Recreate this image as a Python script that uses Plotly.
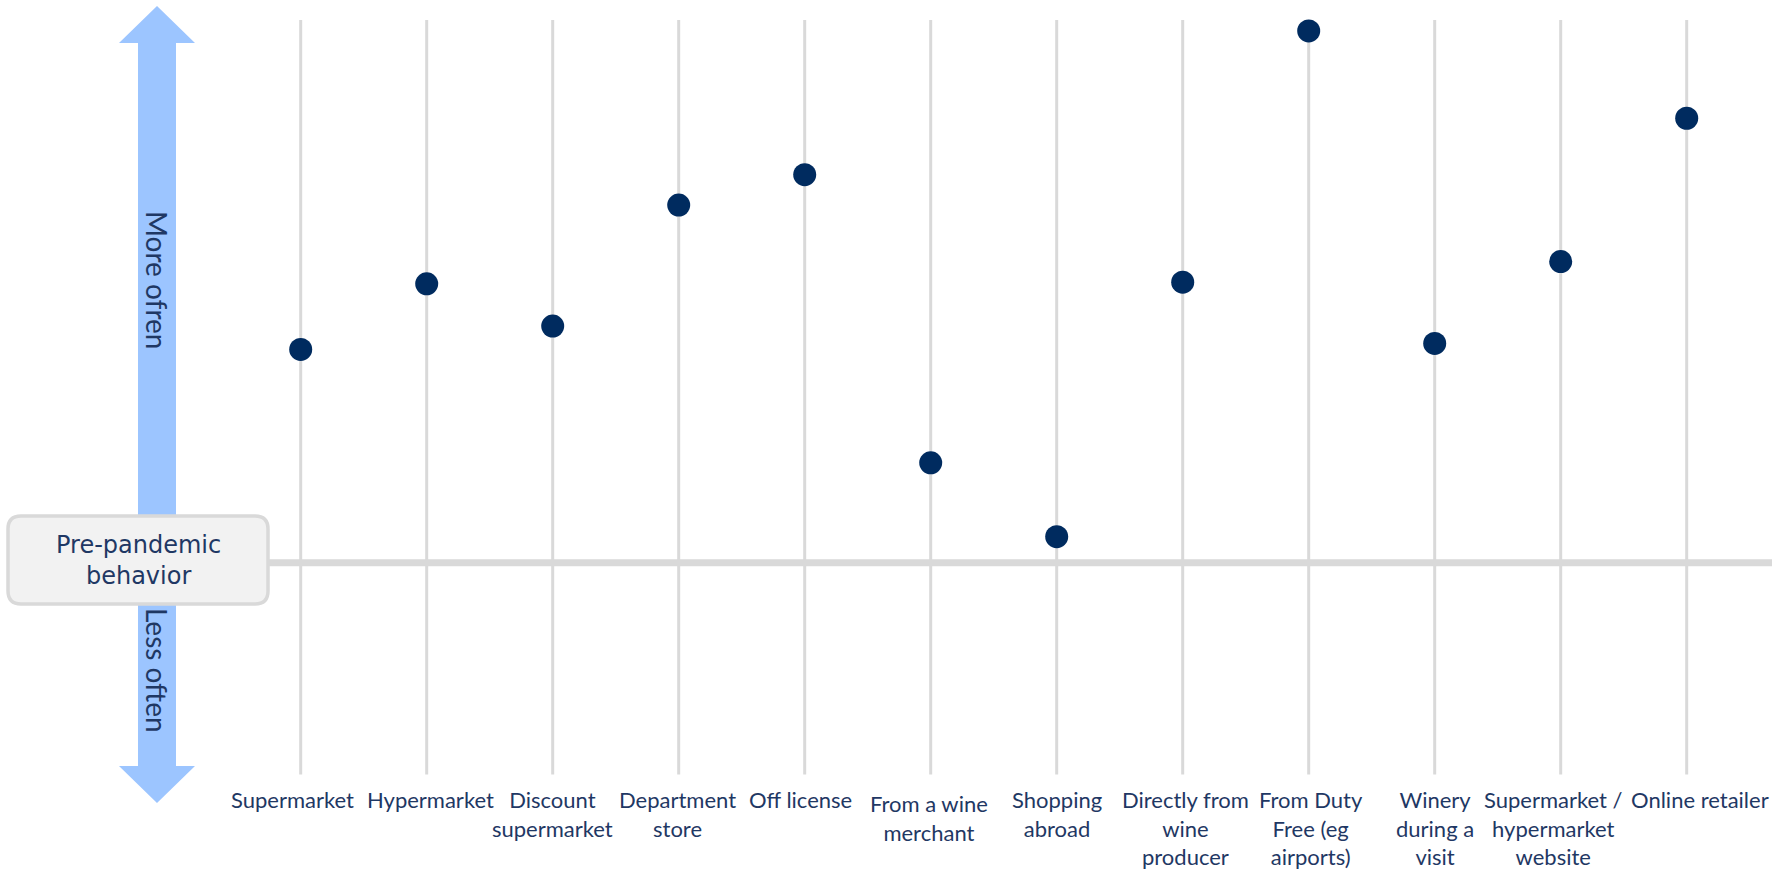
import plotly.graph_objects as go

# Purchase channels and how often each is used compared with pre-pandemic behaviour
# (0 = pre-pandemic level, positive = more often)
channels = [
    "Supermarket",
    "Hypermarket",
    "Discount<br>supermarket",
    "Department<br>store",
    "Off license",
    "From a wine<br>merchant",
    "Shopping<br>abroad",
    "Directly from<br>wine<br>producer",
    "From Duty<br>Free (eg<br>airports)",
    "Winery<br>during a<br>visit",
    "Supermarket /<br>hypermarket<br>website",
    "Online retailer",
]
change_score = [39.3, 51.4, 43.6, 65.9, 71.5, 18.4, 4.8, 51.7, 98.0, 40.4, 55.5, 81.9]

# small per-label nudges (pixels) of the text boxes under each guide line
label_dx = [-8, 3.5, 0, -1, -4, -2, 0, 2.5, 2, 0, -7, 13]
label_dy = [0, 0, 0, 0, 0, 4, 0, 0, 0, 0, 0, 0]

# Extent of the guide line drawn for each channel
GUIDE_TOP = 100
GUIDE_BOTTOM = -39

W, H = 1787, 870
NAVY = "#002b5f"
TEXT = "#1f3864"
GREY = "#d9d9d9"
ARROW = "#9cc5ff"

idx = list(range(len(channels)))

# axis ranges chosen so the chart fills the page
X_RANGE = [-2.3865, 11.796]
Y_RANGE = [-56.62, 103.69]


def px(x):
    return x / W


def py(y):
    return 1 - y / H


fig = go.Figure()

# vertical guide lines
gx, gy = [], []
for i in idx:
    gx += [i, i, None]
    gy += [GUIDE_BOTTOM, GUIDE_TOP, None]
fig.add_trace(go.Scatter(x=gx, y=gy, mode="lines",
                         line=dict(color=GREY, width=3), hoverinfo="skip"))

# dots
fig.add_trace(go.Scatter(x=idx, y=change_score, mode="markers",
                         marker=dict(color=NAVY, size=23),
                         hovertext=[c.replace("<br>", " ") for c in channels],
                         hoverinfo="text+y"))

shapes = []
# pre-pandemic baseline
shapes.append(dict(type="line", xref="paper", yref="y", x0=px(268), x1=px(1772),
                   y0=0, y1=0, line=dict(color=GREY, width=7), layer="below"))

# double-headed arrow on the left
cx, shaft, head = 157, 19, 38
top, bot, hh = 6, 803, 37
pts = [(cx, top), (cx + head, top + hh), (cx + shaft, top + hh), (cx + shaft, bot - hh),
       (cx + head, bot - hh), (cx, bot), (cx - head, bot - hh), (cx - shaft, bot - hh),
       (cx - shaft, top + hh), (cx - head, top + hh)]
path = "M " + " L ".join(f"{px(x):.5f},{py(y):.5f}" for x, y in pts) + " Z"
shapes.append(dict(type="path", xref="paper", yref="paper", path=path,
                   fillcolor=ARROW, line=dict(width=0)))

# rounded label box
x0, y0, x1, y1, r = 8, 516, 268, 604, 13


def P(x, y):
    return f"{px(x):.5f},{py(y):.5f}"


box = (f"M {P(x0 + r, y0)} L {P(x1 - r, y0)} Q {P(x1, y0)} {P(x1, y0 + r)} "
       f"L {P(x1, y1 - r)} Q {P(x1, y1)} {P(x1 - r, y1)} "
       f"L {P(x0 + r, y1)} Q {P(x0, y1)} {P(x0, y1 - r)} "
       f"L {P(x0, y0 + r)} Q {P(x0, y0)} {P(x0 + r, y0)} Z")
shapes.append(dict(type="path", xref="paper", yref="paper", path=box,
                   fillcolor="#f2f2f2", line=dict(color=GREY, width=3.5)))

annotations = []
# channel labels under each guide line
for i, name, dx, dy in zip(idx, channels, label_dx, label_dy):
    annotations.append(dict(x=i, xref="x", y=py(784 + dy), yref="paper", text=name,
                            xshift=dx, showarrow=False, xanchor="center", yanchor="top",
                            align="center", font=dict(family="Lato", size=22, color=TEXT)))

annotations.append(dict(x=px(138), y=py(560), xref="paper", yref="paper",
                        xanchor="center", yanchor="middle",
                        text="Pre-pandemic<br>behavior", showarrow=False,
                        align="center", font=dict(family="DejaVu Sans", size=24, color=TEXT)))
annotations.append(dict(x=px(157), y=py(280), xref="paper", yref="paper",
                        xanchor="center", yanchor="middle",
                        text="More ofren", textangle=90, showarrow=False,
                        font=dict(family="Lato", size=28, color=TEXT)))
annotations.append(dict(x=px(157), y=py(670), xref="paper", yref="paper",
                        xanchor="center", yanchor="middle",
                        text="Less often", textangle=90, showarrow=False,
                        font=dict(family="Lato", size=28, color=TEXT)))

fig.update_layout(
    width=W, height=H,
    margin=dict(l=0, r=0, t=0, b=0),
    paper_bgcolor="white", plot_bgcolor="white",
    showlegend=False,
    xaxis=dict(range=X_RANGE, visible=False, fixedrange=True),
    yaxis=dict(range=Y_RANGE, visible=False, fixedrange=True),
    shapes=shapes,
    annotations=annotations,
)

fig.write_html("out.html")
